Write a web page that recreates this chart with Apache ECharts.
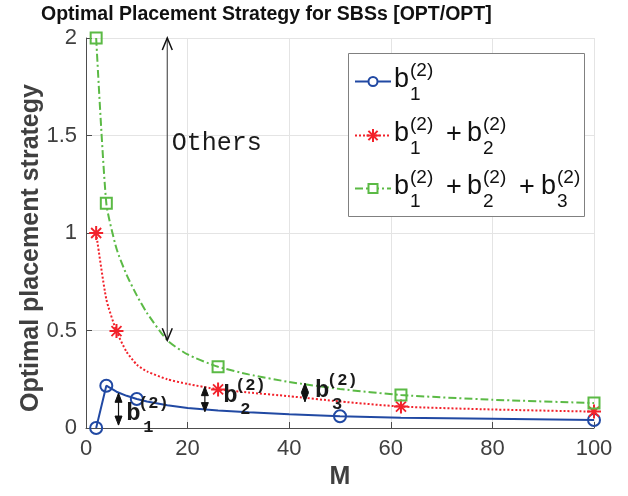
<!DOCTYPE html>
<html><head><meta charset="utf-8">
<script src="https://cdn.jsdelivr.net/npm/echarts@6/dist/echarts.min.js"></script>
<style>html,body{margin:0;padding:0;background:#fff}#c{width:628px;height:496px}</style>
</head><body><div id="c"></div>
<script>
// ---- data ----
const mValues = [2, 4, 6, 8, 10, 12, 16, 20, 26, 32, 40, 50, 62, 80, 100];
const b1Values   = [0, 0.217, 0.186, 0.165, 0.149, 0.136, 0.117, 0.103, 0.090, 0.081, 0.070, 0.060, 0.053, 0.047, 0.041];
const b12Values  = [1.0, 0.66, 0.497, 0.39, 0.325, 0.29, 0.25, 0.226, 0.198, 0.182, 0.163, 0.136, 0.110, 0.095, 0.084];
const b123Values = [2.0, 1.152, 0.92, 0.785, 0.68, 0.59, 0.45, 0.377, 0.314, 0.275, 0.236, 0.200, 0.169, 0.145, 0.128];
const b1Marks = [2, 4, 10, 50, 100];
const b12Marks = [2, 6, 26, 62, 100];
const b123Marks = [2, 4, 26, 62, 100];
const xTicks = [0, 20, 40, 60, 80, 100];
const yTicks = [0, 0.5, 1, 1.5, 2];
// annotations (data coordinates)
const othersArrow = [16, 2, 0.45];           // x, top, bottom
const othersLabel = [16.9, 1.46];
const bArrows = [[6.4, 0.015, 0.178], [23.4, 0.084, 0.212], [43.1, 0.135, 0.229]];
const bLabels = [['1', 7.9, 0.072], ['2', 27, 0.164], ['3', 45.1, 0.19]];

const BLUE = '#2149a3', RED = '#f2222b', GREEN = '#5bba45';
const SANS = '"Liberation Sans", Arial, Helvetica, sans-serif';
const MONO = '"Liberation Mono", "Courier New", monospace';
const STAR = 'path://M-1,-7L1,-7L1,7L-1,7Z M-7,-1L7,-1L7,1L-7,1Z M-4.36,-5.64L5.64,4.36L4.36,5.64L-5.64,-4.36Z M5.64,-4.36L-4.36,5.64L-5.64,4.36L4.36,-5.64Z';

function build(vals, marks) {
  return mValues.map((m, i) => marks.includes(m) ? { value: [m, vals[i]] } : { value: [m, vals[i]], symbol: 'none' });
}

const chart = echarts.init(document.getElementById('c'), null, { renderer: 'canvas' });
const axisCol = '#4d4d4d';
chart.setOption({
  animation: false,
  backgroundColor: '#fff',
  title: {
    text: 'Optimal Placement Strategy for SBSs [OPT/OPT]',
    left: 36, top: 0,
    textStyle: { fontFamily: SANS, fontSize: 19.5, fontWeight: 'bold', color: '#111' }
  },
  grid: { left: 86, right: 34, top: 38, bottom: 68, containLabel: false },
  xAxis: {
    type: 'value', min: xTicks[0], max: xTicks[xTicks.length - 1], interval: 20,
    name: 'M', nameLocation: 'middle', nameGap: 27,
    nameTextStyle: { fontFamily: SANS, fontSize: 25, fontWeight: 'bold', color: '#404040' },
    axisLine: { show: true, lineStyle: { color: axisCol, width: 1 } },
    axisTick: { show: true, inside: true, length: 6, lineStyle: { color: axisCol } },
    axisLabel: { fontFamily: SANS, fontSize: 22, color: '#404040', margin: 10 },
    splitLine: { show: true, lineStyle: { color: '#e4e4e4', width: 1 } }
  },
  yAxis: {
    type: 'value', min: yTicks[0], max: yTicks[yTicks.length - 1], interval: 0.5,
    name: 'Optimal placement strategy', nameLocation: 'middle', nameGap: 42, nameMoveOverlap: false,
    nameTextStyle: { fontFamily: SANS, fontSize: 25, fontWeight: 'bold', color: '#404040', padding: [0, 30, 0, 0] },
    axisLine: { show: true, lineStyle: { color: axisCol, width: 1 } },
    axisTick: { show: true, inside: true, length: 6, lineStyle: { color: axisCol } },
    axisLabel: { fontFamily: SANS, fontSize: 22, color: '#404040', margin: 9, formatter: v => String(v) },
    splitLine: { show: true, lineStyle: { color: '#e4e4e4', width: 1 } }
  },
  series: [
    {
      name: 'b1', type: 'line', data: build(b1Values, b1Marks), smooth: false,
      symbol: 'circle', symbolSize: 12, showAllSymbol: true,
      lineStyle: { color: BLUE, width: 2, type: 'solid' },
      itemStyle: { color: 'rgba(255,255,255,0)', borderColor: BLUE, borderWidth: 2 }, z: 3
    },
    {
      name: 'b1+b2', type: 'line', data: build(b12Values, b12Marks), smooth: 0.2,
      symbol: STAR, symbolSize: 14, showAllSymbol: true,
      lineStyle: { color: RED, width: 2, type: [2, 2] },
      itemStyle: { color: RED, borderWidth: 0 }, z: 4
    },
    {
      name: 'b1+b2+b3', type: 'line', data: build(b123Values, b123Marks), smooth: 0.2,
      symbol: 'rect', symbolSize: 11, showAllSymbol: true,
      lineStyle: { color: GREEN, width: 2, type: [8, 3, 2, 3] },
      itemStyle: { color: 'rgba(255,255,255,0)', borderColor: GREEN, borderWidth: 2 }, z: 5
    }
  ]
});

function px(x, y) { return chart.convertToPixel({ gridIndex: 0 }, [x, y]); }
const g = [];
// "Others" arrow
(function () {
  const t = px(othersArrow[0], othersArrow[1]), b = px(othersArrow[0], othersArrow[2]);
  g.push({ type: 'line', z: 50, shape: { x1: t[0], y1: t[1], x2: b[0], y2: b[1] }, style: { stroke: '#555', lineWidth: 1.2 } });
  g.push({ type: 'polyline', z: 50, shape: { points: [[t[0] - 5, t[1] + 12], [t[0], t[1]], [t[0] + 5, t[1] + 12]] }, style: { stroke: '#111', lineWidth: 1.5, fill: null } });
  g.push({ type: 'polyline', z: 50, shape: { points: [[b[0] - 5, b[1] - 12], [b[0], b[1]], [b[0] + 5, b[1] - 12]] }, style: { stroke: '#111', lineWidth: 1.5, fill: null } });
  const l = px(othersLabel[0], othersLabel[1]);
  g.push({ type: 'text', z: 50, style: { text: 'Others', x: l[0], y: l[1], font: 'normal 25px ' + MONO, fill: '#1a1a1a', align: 'left', verticalAlign: 'middle' } });
})();
// b arrows
bArrows.forEach(a => {
  const b = px(a[0], a[1]), t = px(a[0], a[2]);
  g.push({ type: 'line', z: 50, shape: { x1: t[0], y1: t[1], x2: b[0], y2: b[1] }, style: { stroke: '#111', lineWidth: 1.2 } });
  g.push({ type: 'polygon', z: 50, shape: { points: [[t[0] - 3.5, t[1] + 9], [t[0], t[1]], [t[0] + 3.5, t[1] + 9]] }, style: { fill: '#111', stroke: '#111', lineWidth: 1 } });
  g.push({ type: 'polygon', z: 50, shape: { points: [[b[0] - 3.5, b[1] - 9], [b[0], b[1]], [b[0] + 3.5, b[1] - 9]] }, style: { fill: '#111', stroke: '#111', lineWidth: 1 } });
});
// b labels
bLabels.forEach(l => {
  const p = px(l[1], l[2]);
  g.push({ type: 'text', z: 50, style: { text: 'b', x: p[0], y: p[1], font: 'bold 24px ' + MONO, fill: '#1a1a1a', align: 'left', verticalAlign: 'middle' } });
  g.push({ type: 'text', z: 50, style: { text: '(2)', x: p[0] + 12, y: p[1] - 10, font: 'bold 17px ' + MONO, fill: '#1a1a1a', align: 'left', verticalAlign: 'middle' } });
  g.push({ type: 'text', z: 50, style: { text: l[0], x: p[0] + 17, y: p[1] + 14, font: 'bold 17px ' + MONO, fill: '#1a1a1a', align: 'left', verticalAlign: 'middle' } });
});
// legend
g.push({ type: 'rect', z: 60, shape: { x: 348.5, y: 53.5, width: 236, height: 163 }, style: { fill: '#fff', stroke: '#808080', lineWidth: 1 } });
const legendRows = [
  { y: 81.5, color: BLUE, dash: null, n: 1, mk: 'circle' },
  { y: 135.5, color: RED, dash: [2, 2], n: 2, mk: 'star' },
  { y: 188.5, color: GREEN, dash: [8, 3, 2, 3], n: 3, mk: 'rect' }
];
legendRows.forEach(r => {
  g.push({ type: 'line', z: 61, shape: { x1: 355, y1: r.y, x2: 391, y2: r.y }, style: { stroke: r.color, lineWidth: 2, lineDash: r.dash } });
  if (r.mk === 'circle') g.push({ type: 'circle', z: 62, shape: { cx: 373, cy: r.y, r: 4.5 }, style: { fill: '#fff', stroke: r.color, lineWidth: 2 } });
  if (r.mk === 'rect') g.push({ type: 'rect', z: 62, shape: { x: 368.5, y: r.y - 4.5, width: 9, height: 9 }, style: { fill: '#fff', stroke: r.color, lineWidth: 2 } });
  if (r.mk === 'star') {
    const c = 373, s = 6.5, d = 4.6;
    [[c - s, r.y, c + s, r.y], [c, r.y - s, c, r.y + s], [c - d, r.y - d, c + d, r.y + d], [c - d, r.y + d, c + d, r.y - d]].forEach(q =>
      g.push({ type: 'line', z: 62, shape: { x1: q[0], y1: q[1], x2: q[2], y2: q[3] }, style: { stroke: r.color, lineWidth: 2 } }));
  }
  const starts = [394, 467, 541];
  for (let k = 1; k <= r.n; k++) {
    const x0 = starts[k - 1], yc = r.y - 1.5;
    g.push({ type: 'text', z: 62, style: { text: 'b', x: x0, y: yc, font: '27px ' + SANS, fill: '#111', align: 'left', verticalAlign: 'middle' } });
    g.push({ type: 'text', z: 62, style: { text: '(2)', x: x0 + 16, y: yc - 9, font: '19px ' + SANS, fill: '#111', align: 'left', verticalAlign: 'middle' } });
    g.push({ type: 'text', z: 62, style: { text: String(k), x: x0 + 16, y: yc + 15, font: '19px ' + SANS, fill: '#111', align: 'left', verticalAlign: 'middle' } });
    if (k < r.n) g.push({ type: 'text', z: 62, style: { text: '+', x: x0 + 52, y: yc + 1, font: '27px ' + SANS, fill: '#111', align: 'left', verticalAlign: 'middle' } });
  }
});
chart.setOption({ graphic: { elements: g } });
</script></body></html>
